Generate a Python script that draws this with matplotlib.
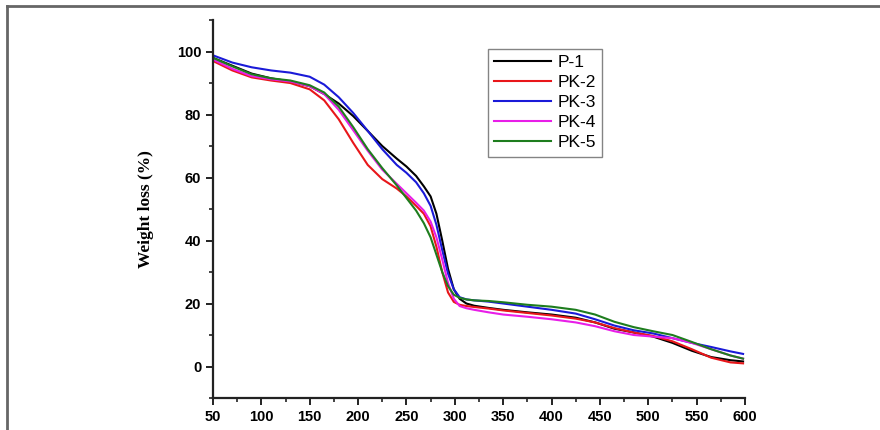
import matplotlib.pyplot as plt
from matplotlib.lines import Line2D
from matplotlib.ticker import MultipleLocator

# temperature (deg C)
temp = [50, 70, 90, 110, 130, 150, 165, 180, 195, 210, 225, 240, 250, 260,
        268, 275, 281, 287, 293, 299, 305, 312, 320, 335, 350, 375, 400, 425,
        445, 465, 485, 505, 525, 545, 565, 585, 598]

p1 = [98.0, 95.5, 93.0, 91.5, 90.5, 89.0, 86.5, 83.5, 79.5, 74.8, 70.0, 66.0, 63.5, 60.5,
      57.2, 54.0, 48.5, 40.0, 31.0, 24.5, 21.5, 20.0, 19.3, 18.6, 18.0, 17.2, 16.5, 15.5,
      14.0, 12.0, 10.8, 9.5, 7.5, 5.0, 3.0, 2.0, 1.6]
pk2 = [97.0, 94.0, 91.8, 90.8, 90.0, 88.0, 84.5, 78.5, 71.0, 64.0, 59.5, 56.5, 54.0, 51.0,
       48.5, 44.5, 38.0, 30.0, 23.5, 20.5, 19.6, 19.2, 18.9, 18.4, 17.8, 17.0, 16.2, 15.2,
       14.0, 12.2, 10.8, 9.7, 8.0, 5.5, 2.8, 1.3, 1.0]
pk3 = [98.8, 96.5, 95.0, 94.0, 93.3, 92.0, 89.5, 85.5, 80.5, 74.8, 69.0, 64.0, 61.5, 58.5,
       55.0, 51.0, 45.0, 37.0, 29.5, 24.5, 22.0, 21.3, 21.0, 20.6, 20.0, 19.0, 18.0, 16.8,
       15.0, 13.0, 11.5, 10.5, 9.0, 7.5, 6.2, 4.8, 4.0]
pk4 = [97.5, 94.5, 92.2, 91.2, 90.5, 89.0, 86.5, 81.5, 75.0, 68.5, 62.5, 58.0, 55.0, 52.0,
       49.5, 46.0, 41.0, 34.0, 26.5, 21.5, 19.2, 18.5, 18.0, 17.2, 16.5, 15.8, 15.0, 14.0,
       12.8, 11.2, 10.0, 9.5, 9.0, 7.5, 5.5, 3.5, 2.5]
pk5 = [98.0, 95.3, 92.8, 91.5, 90.8, 89.3, 87.0, 82.5, 76.0, 69.0, 63.0, 57.5, 53.5, 49.5,
       45.5, 41.0, 35.5, 30.0, 25.5, 22.8, 21.8, 21.3, 21.0, 20.8, 20.4, 19.6, 19.0, 18.0,
       16.5, 14.2, 12.5, 11.2, 10.0, 7.8, 5.5, 3.5, 2.5]

names = ["P-1", "PK-2", "PK-3", "PK-4", "PK-5"]
series = [p1, pk2, pk3, pk4, pk5]
colors = ["#000000", "#e8161a", "#1a1ad8", "#e81ee8", "#1e7d1e"]

fig = plt.figure(figsize=(8.8, 4.3), dpi=100)
ax = fig.add_axes([0.242, 0.0744, 0.6046, 0.879])

for vals, c, n in zip(series, colors, names):
    ax.plot(temp, vals, color=c, lw=1.5, label=n, solid_joinstyle='round')

ax.set_xlim(50, 600)
ax.set_ylim(-10, 110)
ax.xaxis.set_major_locator(MultipleLocator(50))
ax.xaxis.set_minor_locator(MultipleLocator(25))
ax.yaxis.set_major_locator(MultipleLocator(20))
ax.yaxis.set_minor_locator(MultipleLocator(10))
ax.spines['top'].set_visible(False)
ax.spines['right'].set_visible(False)
for s in ['left', 'bottom']:
    ax.spines[s].set_linewidth(1.6)
    ax.spines[s].set_color('#222222')
ax.tick_params(which='major', direction='out', length=5, width=1.4, color='#222222')
ax.tick_params(which='minor', direction='out', length=3, width=1.2, color='#222222')
for lab in ax.get_xticklabels() + ax.get_yticklabels():
    lab.set_fontfamily('Liberation Sans')
    lab.set_fontweight('bold')
    lab.set_fontsize(10.5)

ax.set_ylabel("Weight loss (%)", fontfamily='Liberation Serif', fontweight='bold',
              fontsize=12.5, labelpad=16)

leg = ax.legend(loc='upper left', bbox_to_anchor=(0.517, 0.923), borderaxespad=0,
                frameon=True, fancybox=False, edgecolor='#666666', handlelength=3.3,
                prop={'family': 'Liberation Sans', 'size': 12.5},
                borderpad=0.35, labelspacing=0.28, handletextpad=0.35)
leg.get_frame().set_linewidth(1.0)

# outer frame of the picture (top and left edge only)
fig.add_artist(Line2D([0.008, 1.0], [0.987, 0.987], color='#666666', lw=2.0))
fig.add_artist(Line2D([0.008, 0.008], [0.0, 0.987], color='#666666', lw=2.0))

fig.savefig("out.png", dpi=100)
